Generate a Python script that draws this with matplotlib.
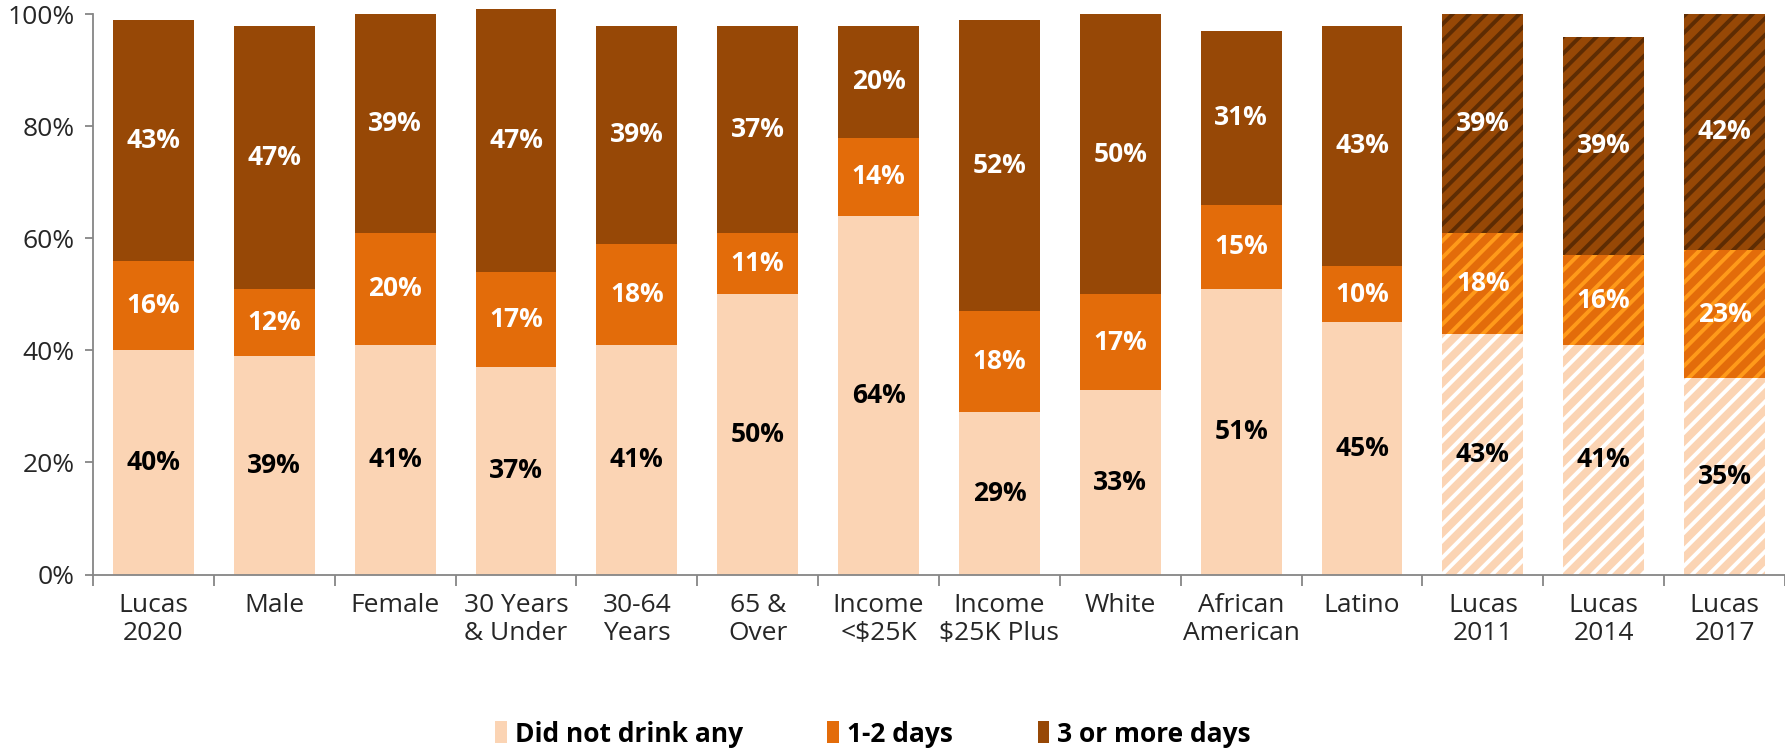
import numpy as np
import matplotlib
matplotlib.use("Agg")
import matplotlib.pyplot as plt
from matplotlib.patches import Patch

# categories and values (percent)
categories = ["Lucas\n2020", "Male", "Female", "30 Years\n& Under", "30-64\nYears",
              "65 &\nOver", "Income\n<$25K", "Income\n$25K Plus", "White",
              "African\nAmerican", "Latino", "Lucas\n2011", "Lucas\n2014", "Lucas\n2017"]
did_not_drink = [40, 39, 41, 37, 41, 50, 64, 29, 33, 51, 45, 43, 41, 35]
one_two_days = [16, 12, 20, 17, 18, 11, 14, 18, 17, 15, 10, 18, 16, 23]
three_plus = [43, 47, 39, 47, 39, 37, 20, 52, 50, 31, 43, 39, 39, 42]
hatched = [False] * 11 + [True] * 3
series_names = ["Did not drink any", "1-2 days", "3 or more days"]

colors = ["#FBD4B4", "#E36C0A", "#974806"]
stripe_colors = ["#FFFFFF", "#FF9A1A", "#5E2C03"]
text_colors = ["black", "white", "white"]

plt.rcParams['font.family'] = ['Open Sans', 'DejaVu Sans']
plt.rcParams['hatch.linewidth'] = 2.8

fig = plt.figure(figsize=(17.85, 7.5), dpi=100)
ax = fig.add_axes([93 / 1785, 1 - 574.5 / 750, 1 - 93 / 1785, (574.5 - 14.3) / 750])

x = np.arange(len(categories))
width = 0.67
bottom = np.zeros(len(categories))
for k, vals in enumerate([did_not_drink, one_two_days, three_plus]):
    vals = np.array(vals, dtype=float)
    for i in range(len(x)):
        if hatched[i]:
            ax.bar(x[i], vals[i], width, bottom=bottom[i], color=colors[k],
                   edgecolor=stripe_colors[k], linewidth=0, hatch='//', clip_on=False)
        else:
            ax.bar(x[i], vals[i], width, bottom=bottom[i], color=colors[k],
                   linewidth=0, clip_on=False)
        ax.text(x[i], bottom[i] + vals[i] / 2, f"{int(vals[i])}%", ha='center', va='center',
                color=text_colors[k], fontsize=19, fontweight='bold')
    bottom += vals

ax.set_xlim(-0.5, len(categories) - 0.5)
ax.set_ylim(0, 100)
ax.set_yticks(np.arange(0, 101, 20))
ax.set_yticklabels([f"{v}%" for v in range(0, 101, 20)])
ax.set_xticks(x)
ax.set_xticklabels(categories)
ax.set_xticks(np.arange(-0.5, len(categories), 1), minor=True)

for s in ['top', 'right']:
    ax.spines[s].set_visible(False)
for s in ['left', 'bottom']:
    ax.spines[s].set_color('#868686')
    ax.spines[s].set_linewidth(1.3)

ax.tick_params(axis='y', length=6, width=1.3, color='#868686', labelsize=19,
               labelcolor='#262626', pad=7)
ax.tick_params(axis='x', which='major', length=0, labelsize=19, labelcolor='#262626', pad=13)
ax.tick_params(axis='x', which='minor', length=8, width=1.3, color='#868686')

handles = [Patch(facecolor=c, label=n) for c, n in zip(colors, series_names)]
leg = fig.legend(handles=handles, loc='center', bbox_to_anchor=(873 / 1785, 1 - 734 / 750),
                 ncol=3, frameon=False, handlelength=0.45, handleheight=0.9,
                 handletextpad=0.3, columnspacing=3.2,
                 prop={'size': 19, 'weight': 'bold'})

fig.savefig("out.png", dpi=100)
